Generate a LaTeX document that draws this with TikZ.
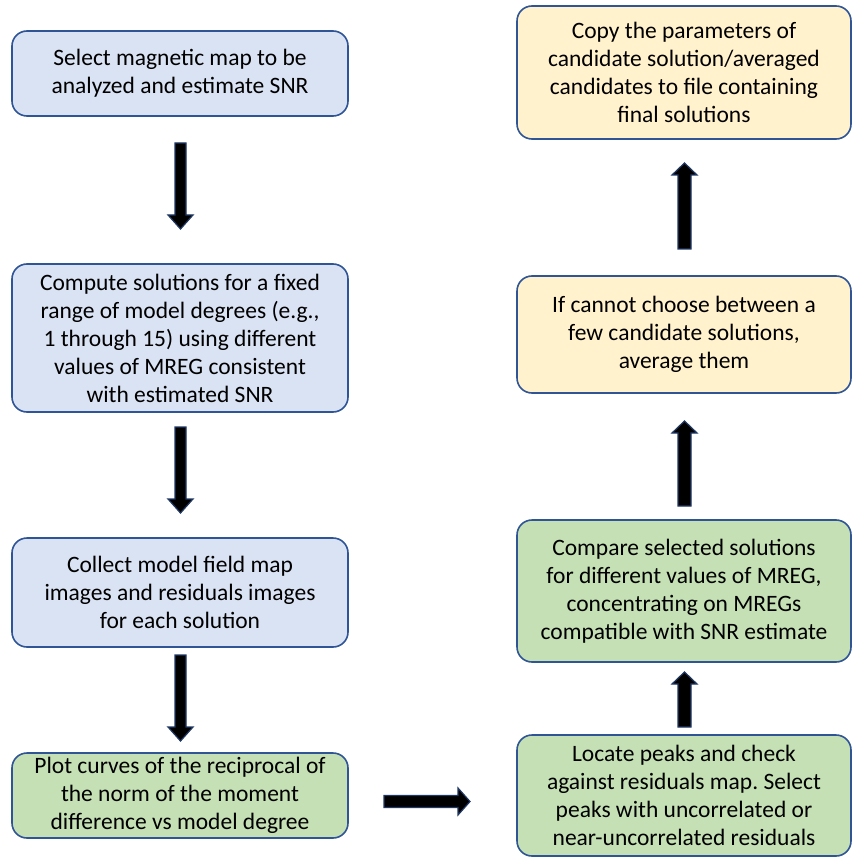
\documentclass[tikz,border=0pt]{standalone}
\usepackage{fontspec}
\setmainfont{Carlito}
\frenchspacing
\definecolor{bfill}{HTML}{DAE3F3}
\definecolor{gfill}{HTML}{C5E0B4}
\definecolor{yfill}{HTML}{FFF2CC}
\definecolor{edge}{HTML}{2F5597}
\definecolor{aedge}{HTML}{1F3864}
\begin{document}
\begin{tikzpicture}[x=1pt,y=-1pt,
  box/.style={draw=edge, line width=1.6pt, rounded corners=15pt, align=center,
    inner sep=0pt, font=\fontsize{23.5}{28}\selectfont},
  lbox/.style={box, minimum width=336pt},
  rbox/.style={box, minimum width=334pt},
  blockarrow/.style={fill=black, draw=aedge, line width=1.2pt, line join=miter}]
\useasboundingbox (0,0) rectangle (852,858);
% left column
\node[lbox, fill=bfill, minimum height=85pt] (b1) at (180,73.5)
  {Select magnetic map to be\\analyzed and estimate SNR};
\node[lbox, fill=bfill, minimum height=148pt] (b2) at (180,338)
  {Compute solutions for a fixed\\range of model degrees (e.g.,\\1 through 15) using different\\values of MREG consistent\\with estimated SNR};
\node[lbox, fill=bfill, minimum height=109pt] (b3) at (180,592.5)
  {Collect model field map\\images and residuals images\\for each solution};
\node[lbox, fill=gfill, minimum height=85pt] (b4) at (180,795.5)
  {Plot curves of the reciprocal of\\the norm of the moment\\difference vs model degree};
% right column
\node[rbox, fill=yfill, minimum height=133pt] (r1) at (684,72.5)
  {Copy the parameters of\\candidate solution/averaged\\candidates to file containing\\final solutions};
\node[rbox, fill=yfill, minimum height=117pt] (r2) at (684,334.5)
  {If cannot choose between a\\few candidate solutions,\\average them};
\node[rbox, fill=gfill, minimum height=142pt] (r3) at (684,591)
  {Compare selected solutions\\for different values of MREG,\\concentrating on MREGs\\compatible with SNR estimate};
\node[rbox, fill=gfill, minimum height=121pt] (r4) at (684,795.5)
  {Locate peaks and check\\against residuals map. Select\\peaks with uncorrelated or\\near-uncorrelated residuals};
% down arrows (left)
\draw[blockarrow] (175,143) -- (186,143) -- (186,215) -- (193,215) -- (180.5,229) -- (168,215) -- (175,215) -- cycle;
\draw[blockarrow] (175,427) -- (186,427) -- (186,499) -- (193,499) -- (180.5,513) -- (168,499) -- (175,499) -- cycle;
\draw[blockarrow] (175,655) -- (186,655) -- (186,727) -- (193,727) -- (180.5,741) -- (168,727) -- (175,727) -- cycle;
% horizontal arrow
\draw[blockarrow] (384,795.5) -- (458,795.5) -- (458,788) -- (470,801.5) -- (458,815) -- (458,807.5) -- (384,807.5) -- cycle;
% up arrows (right)
\draw[blockarrow] (678,249) -- (678,175) -- (672,175) -- (684.5,163) -- (697,175) -- (691,175) -- (691,249) -- cycle;
\draw[blockarrow] (678,506) -- (678,433) -- (672,433) -- (684.5,421) -- (697,433) -- (691,433) -- (691,506) -- cycle;
\draw[blockarrow] (678,727) -- (678,684) -- (672,684) -- (684.5,672) -- (697,684) -- (691,684) -- (691,727) -- cycle;
\end{tikzpicture}
\end{document}
